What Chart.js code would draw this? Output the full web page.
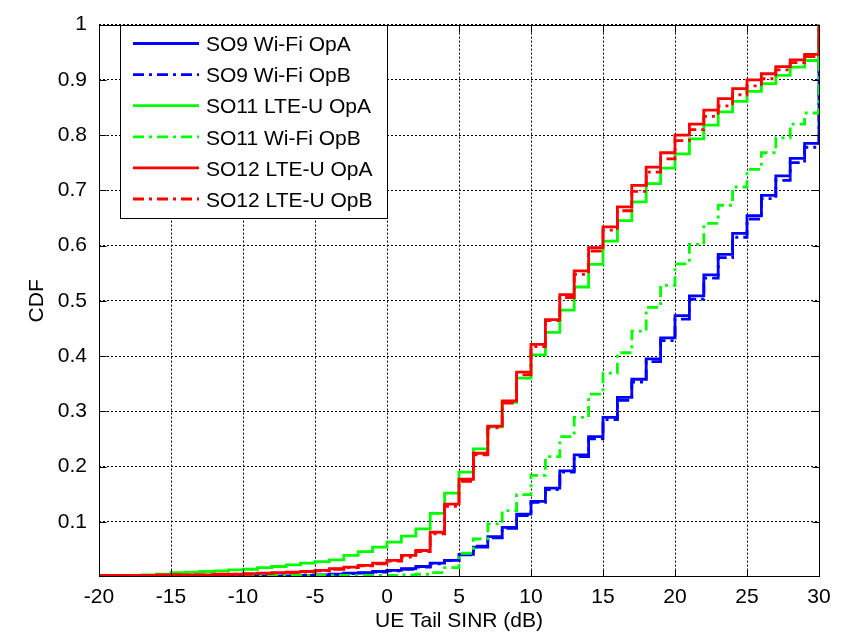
<!DOCTYPE html>
<html>
<head>
<meta charset="utf-8">
<title>UE Tail SINR CDF</title>
<script src="https://cdn.jsdelivr.net/npm/chart.js@4.4.1/dist/chart.umd.min.js"></script>
<style>
  html, body { margin: 0; padding: 0; background: #fff; }
  #wrap { width: 841px; height: 636px; }
</style>
</head>
<body>
<div id="wrap"><canvas id="cdfChart" width="841" height="636"></canvas></div>
<script>
// x positions (dB) where the empirical CDFs step
const sinrDb = [
  -20, -19, -18, -17, -16, -15, -14, -13, -12, -11,
  -10, -9, -8, -7, -6, -5, -4, -3, -2, -1,
  0, 1, 2, 3, 4, 5, 6, 7, 8, 9,
  10, 11, 12, 13, 14, 15, 16, 17, 18, 19,
  20, 21, 22, 23, 24, 25, 26, 27, 28, 29, 30
];

const xTicks = [-20, -15, -10, -5, 0, 5, 10, 15, 20, 25, 30];
const yTicks = [0.1, 0.2, 0.3, 0.4, 0.5, 0.6, 0.7, 0.8, 0.9, 1];

const seriesNames = [
  "SO9 Wi-Fi OpA",
  "SO9 Wi-Fi OpB",
  "SO11 LTE-U OpA",
  "SO11 Wi-Fi OpB",
  "SO12 LTE-U OpA",
  "SO12 LTE-U OpB"
];

// CDF value reached at each sinrDb step
const so9WifiOpA = [
  0.000, 0.000, 0.000, 0.000, 0.000, 0.000, 0.000, 0.001, 0.001, 0.001,
  0.001, 0.002, 0.002, 0.002, 0.003, 0.004, 0.005, 0.007, 0.008, 0.010,
  0.012, 0.015, 0.019, 0.025, 0.030, 0.041, 0.054, 0.073, 0.090, 0.114,
  0.137, 0.161, 0.192, 0.221, 0.254, 0.289, 0.325, 0.358, 0.395, 0.433,
  0.473, 0.509, 0.547, 0.584, 0.622, 0.654, 0.691, 0.726, 0.758, 0.785, 1.000
];
const so9WifiOpB = [
  0.000, 0.000, 0.000, 0.000, 0.000, 0.000, 0.000, 0.000, 0.000, 0.001,
  0.001, 0.001, 0.001, 0.002, 0.002, 0.003, 0.004, 0.006, 0.007, 0.009,
  0.011, 0.014, 0.018, 0.024, 0.030, 0.040, 0.056, 0.071, 0.088, 0.111,
  0.135, 0.158, 0.190, 0.218, 0.250, 0.285, 0.320, 0.353, 0.390, 0.428,
  0.467, 0.503, 0.541, 0.578, 0.615, 0.648, 0.685, 0.718, 0.750, 0.778, 1.000
];
const so11LteuOpA = [
  0.002, 0.003, 0.003, 0.004, 0.005, 0.008, 0.009, 0.010, 0.011, 0.013,
  0.014, 0.017, 0.019, 0.022, 0.025, 0.028, 0.031, 0.039, 0.046, 0.054,
  0.063, 0.074, 0.087, 0.115, 0.152, 0.190, 0.232, 0.272, 0.316, 0.360,
  0.402, 0.443, 0.483, 0.525, 0.566, 0.608, 0.645, 0.679, 0.712, 0.740,
  0.766, 0.793, 0.818, 0.842, 0.861, 0.879, 0.893, 0.908, 0.923, 0.935, 1.000
];
const so11WifiOpB = [
  0.003, 0.003, 0.003, 0.003, 0.003, 0.003, 0.003, 0.003, 0.003, 0.003,
  0.003, 0.003, 0.003, 0.003, 0.003, 0.003, 0.003, 0.003, 0.003, 0.003,
  0.003, 0.004, 0.005, 0.008, 0.017, 0.043, 0.069, 0.096, 0.120, 0.149,
  0.184, 0.218, 0.254, 0.289, 0.331, 0.369, 0.406, 0.445, 0.488, 0.528,
  0.567, 0.602, 0.640, 0.673, 0.706, 0.738, 0.768, 0.795, 0.820, 0.840, 1.000
];
const so12LteuOpA = [
  0.003, 0.003, 0.003, 0.003, 0.004, 0.004, 0.004, 0.004, 0.005, 0.005,
  0.006, 0.007, 0.008, 0.009, 0.010, 0.012, 0.015, 0.018, 0.021, 0.025,
  0.030, 0.039, 0.048, 0.081, 0.132, 0.177, 0.224, 0.273, 0.319, 0.371,
  0.421, 0.466, 0.511, 0.554, 0.596, 0.634, 0.670, 0.709, 0.742, 0.768,
  0.800, 0.820, 0.845, 0.866, 0.884, 0.900, 0.911, 0.924, 0.936, 0.946, 1.000
];
const so12LteuOpB = [
  0.003, 0.003, 0.003, 0.003, 0.003, 0.004, 0.004, 0.004, 0.004, 0.005,
  0.005, 0.006, 0.007, 0.008, 0.009, 0.011, 0.014, 0.017, 0.020, 0.024,
  0.029, 0.036, 0.046, 0.078, 0.128, 0.173, 0.221, 0.270, 0.315, 0.366,
  0.417, 0.464, 0.506, 0.548, 0.590, 0.628, 0.663, 0.698, 0.733, 0.757,
  0.790, 0.810, 0.834, 0.853, 0.873, 0.889, 0.902, 0.918, 0.931, 0.942, 1.000
];

const FONT = "'Liberation Sans', Arial, sans-serif";
const dashDot = [11, 5, 3, 5];

document.addEventListener("DOMContentLoaded", function () {
  const allSeries = [so9WifiOpA, so9WifiOpB, so11LteuOpA, so11WifiOpB, so12LteuOpA, so12LteuOpB];
  const colors = ["#0000ff", "#0000ff", "#00ff00", "#00ff00", "#ff0000", "#ff0000"];

  const datasets = allSeries.map((ys, i) => ({
    label: seriesNames[i],
    data: sinrDb.map((x, k) => ({ x: x, y: ys[k] })),
    borderColor: colors[i],
    borderWidth: 2.8,
    borderDash: i % 2 === 1 ? dashDot : [],
    stepped: "before",
    pointRadius: 0,
    fill: false,
    order: allSeries.length - 1 - i // later series on top, like matlab
  }));

  // matlab style box, inward ticks and the boxed legend
  const matlabBox = {
    id: "matlabBox",
    afterDatasetsDraw(chart) {
      const { ctx, chartArea: a, scales } = chart;
      const L = Math.round(a.left) + 0.5, R = Math.round(a.right) + 0.5;
      const T = Math.round(a.top) + 0.5, B = Math.round(a.bottom) - 0.5;
      ctx.save();
      ctx.setLineDash([]);
      ctx.strokeStyle = "#000";
      ctx.lineWidth = 1;
      ctx.strokeRect(L, T, R - L, B - T);

      ctx.beginPath();
      xTicks.forEach((v) => {
        const px = Math.round(scales.x.getPixelForValue(v)) + 0.5;
        ctx.moveTo(px, B); ctx.lineTo(px, B - 7);
        ctx.moveTo(px, T); ctx.lineTo(px, T + 7);
      });
      yTicks.forEach((v) => {
        const py = Math.round(scales.y.getPixelForValue(v)) + 0.5;
        ctx.moveTo(L, py); ctx.lineTo(L + 7, py);
        ctx.moveTo(R, py); ctx.lineTo(R - 7, py);
      });
      ctx.stroke();

      // legend
      const box = { x: 120.5, y: 25.5, w: 267, h: 193 };
      ctx.fillStyle = "#fff";
      ctx.fillRect(box.x, box.y, box.w, box.h);
      ctx.strokeRect(box.x, box.y, box.w, box.h);
      ctx.font = "21px " + FONT;
      ctx.textBaseline = "middle";
      ctx.textAlign = "left";
      chart.data.datasets.forEach((ds, i) => {
        const rowY = 43.5 + i * 31.1;
        ctx.save();
        ctx.strokeStyle = ds.borderColor;
        ctx.lineWidth = ds.borderWidth;
        ctx.setLineDash(ds.borderDash);
        ctx.beginPath();
        ctx.moveTo(133, rowY);
        ctx.lineTo(199, rowY);
        ctx.stroke();
        ctx.restore();
        ctx.fillStyle = "#000";
        ctx.fillText(ds.label, 206, rowY + 2);
      });
      ctx.restore();
    }
  };

  const ctx = document.getElementById("cdfChart").getContext("2d");
  new Chart(ctx, {
    type: "line",
    data: { datasets: datasets },
    options: {
      responsive: false,
      animation: false,
      layout: { padding: { top: 17, right: 22, left: 0, bottom: 0 } },
      plugins: { legend: { display: false }, tooltip: { enabled: false } },
      scales: {
        x: {
          type: "linear",
          min: -20,
          max: 30,
          afterBuildTicks: (s) => { s.ticks = xTicks.map((v) => ({ value: v })); },
          afterFit: (s) => { s.height = 59; },
          grid: { color: "#000", lineWidth: 1, drawTicks: false },
          border: { display: false, dash: [2, 2] },
          ticks: {
            color: "#000",
            font: { family: FONT, size: 21 },
            padding: 8,
            maxRotation: 0,
            autoSkip: false
          },
          title: {
            display: true,
            text: "UE Tail SINR (dB)",
            color: "#000",
            font: { family: FONT, size: 21 },
            padding: { top: 0, bottom: 2 }
          }
        },
        y: {
          min: 0,
          max: 1,
          afterBuildTicks: (s) => { s.ticks = yTicks.map((v) => ({ value: v })); },
          afterFit: (s) => { s.width = 99; },
          grid: { color: "#000", lineWidth: 1, drawTicks: false },
          border: { display: false, dash: [2, 2] },
          ticks: {
            color: "#000",
            font: { family: FONT, size: 21 },
            padding: 12,
            callback: (v) => String(Number(v.toFixed(1)))
          },
          title: {
            display: true,
            text: "CDF",
            color: "#000",
            font: { family: FONT, size: 21 },
            padding: { top: 25, bottom: 0 }
          }
        }
      }
    },
    plugins: [matlabBox]
  });
});
</script>
</body>
</html>
